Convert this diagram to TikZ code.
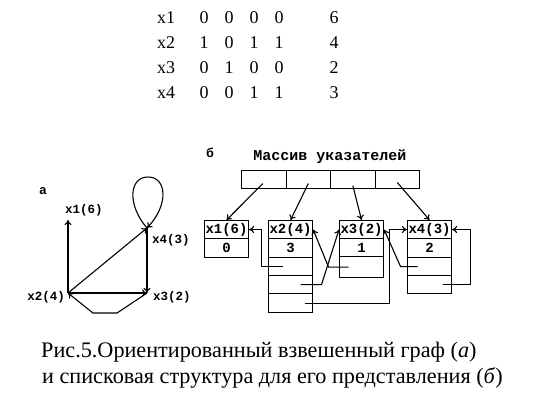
\documentclass[tikz,border=0pt]{standalone}
\usepackage{fontspec}
\setmainfont{Liberation Serif}
\newfontfamily\mono{Liberation Mono}
\usetikzlibrary{calc,arrows.meta}
\begin{document}
\begin{tikzpicture}[x=1pt,y=-1pt,
  arr/.style={line width=1.1pt,-{To[length=5pt,width=7pt]}},
  ln/.style={line width=1.1pt},
  tab/.style={inner sep=0pt,anchor=base,font=\fontsize{18}{18}\selectfont},
  glbl/.style={inner sep=0pt,font=\mono\bfseries\fontsize{12.5}{12.5}\selectfont},
  cell/.style={draw,line width=1.1pt,inner sep=0pt,minimum width=44pt,anchor=north west,font=\mono\bfseries\fontsize{14}{14}\selectfont},
  acell/.style={draw,line width=1.1pt,inner sep=0pt,minimum width=44.5pt,minimum height=18pt,anchor=north west},
  capt/.style={inner sep=0pt,anchor=base west,font=\fontsize{22.2}{22.2}\selectfont}
]
\useasboundingbox (0,0) rectangle (538,400);
% ---- table ----
\foreach \r/\lab/\a/\b/\c/\d/\w [count=\i] in {1/x1/0/0/0/0/6,2/x2/1/0/1/1/4,3/x3/0/1/0/0/2,4/x4/0/0/1/1/3}{
  \pgfmathsetmacro{\yy}{23+(\i-1)*25}
  \node[tab] (r\i l) at (166,\yy) {\lab};
  \node[tab] (r\i a) at (204,\yy) {\a};
  \node[tab] (r\i b) at (229,\yy) {\b};
  \node[tab] (r\i c) at (254,\yy) {\c};
  \node[tab] (r\i d) at (279,\yy) {\d};
  \node[tab] (r\i w) at (334,\yy) {\w};
}
% ---- graph (a) ----
\node[glbl,font=\mono\bfseries\fontsize{13}{13}\selectfont] (la) at (43,191) {а};
\coordinate (v1) at (68,220);
\coordinate (v2) at (68,293);
\coordinate (v3) at (147,293);
\coordinate (v4) at (147,228);
\node[glbl] (l1) at (84,210) {x1(6)};
\node[glbl,anchor=east] (l2) at (65,297) {x2(4)};
\node[glbl,anchor=west] (l3) at (153,297) {x3(2)};
\node[glbl,anchor=west] (l4) at (152,240) {x4(3)};
\draw[arr] (v2) -- (v1);
\draw[arr] (v2) -- (v4);
\draw[arr] (v2) -- (v3);
\draw[arr] (v4) -- (v3);
\draw[arr] (v3) -- (117,313) -- (93,313) -- (v2);
\draw[arr] (v4) .. controls (127,205) and (129,177) .. (148,177) .. controls (167,177) and (169,205) .. (v4);
% ---- list structure (b) ----
\node[glbl,font=\mono\bfseries\fontsize{13}{13}\selectfont] (lb) at (210,153) {б};
\node[inner sep=0pt,font=\mono\bfseries\fontsize{15}{15}\selectfont] (title) at (330,157) {Массив указателей};
\node[acell] (a1) at (241,170) {};
\node[acell] (a2) at (285.5,170) {};
\node[acell] (a3) at (330,170) {};
\node[acell] (a4) at (374.5,170) {};
% x1
\node[cell,minimum height=18pt] (h1) at (204,220) {x1(6)};
\node[cell,minimum height=19pt] (d1) at (204,238) {0};
% x2
\node[cell,minimum height=18pt] (h2) at (268,220) {x2(4)};
\node[cell,minimum height=19pt] (d2) at (268,238) {3};
\node[cell,minimum height=18pt] (p21) at (268,257) {};
\node[cell,minimum height=18pt] (p22) at (268,275) {};
\node[cell,minimum height=19pt] (p23) at (268,293) {};
% x3
\node[cell,minimum height=18pt] (h3) at (339,220) {x3(2)};
\node[cell,minimum height=18pt] (d3) at (339,238) {1};
\node[cell,minimum height=21pt] (p31) at (339,256) {};
% x4
\node[cell,minimum height=18pt] (h4) at (407,220) {x4(3)};
\node[cell,minimum height=19pt] (d4) at (407,238) {2};
\node[cell,minimum height=18pt] (p41) at (407,257) {};
\node[cell,minimum height=18pt] (p42) at (407,275) {};
% array pointers
\draw[arr] ($(a1.center)+(-1,4)$) -- (h1.north);
\draw[arr] ($(a2.center)+(0,4)$) -- (h2.north);
\draw[arr] ($(a3.center)+(0,6)$) -- (h3.north);
\draw[arr] ($(a4.center)+(0,3)$) -- (h4.north);
% list pointers
\draw[arr] ($(p21.center)+(-8,0)$) -| ($(h1.east)+(12,0)$) -- (h1.east);
\draw[arr] ($(p22.center)+(10,0)$) -- ($(p22.center)+(31,0)$) -- (h3.west);
\draw[arr] ($(p23.center)+(14,0)$) -- ($(p23.center)+(99,0)$) |- (h4.west);
\draw[arr] ($(p31.center)+(-13,0)$) -- ($(p31.center)+(-33,0)$) -- (h2.east);
\draw[arr] ($(p41.center)+(-12,0)$) -- ($(p41.center)+(-29,0)$) -- (h3.east);
\draw[arr] ($(p42.center)+(13,0)$) -- ($(p42.center)+(41,0)$) |- (h4.east);
% ---- caption ----
\node[capt] (c1) at (41,357) {Рис.5.Ориентированный взвешенный граф (\textit{а})};
\node[capt] (c2) at (42,383) {и списковая структура для его представления (\textit{б})};
\end{tikzpicture}
\end{document}
